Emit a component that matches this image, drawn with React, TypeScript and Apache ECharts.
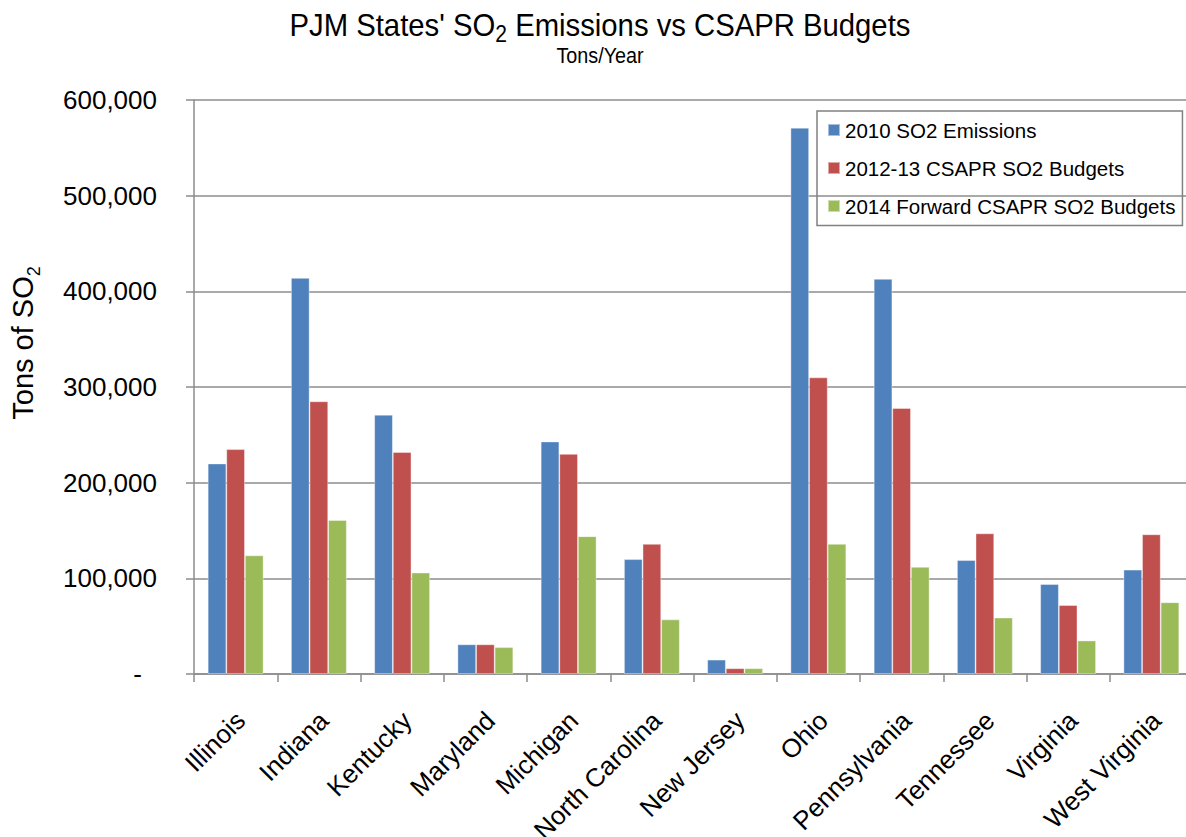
import React, { useEffect, useRef } from "react";
import * as echarts from "echarts";

const categories = [
  "Illinois",
  "Indiana",
  "Kentucky",
  "Maryland",
  "Michigan",
  "North Carolina",
  "New Jersey",
  "Ohio",
  "Pennsylvania",
  "Tennessee",
  "Virginia",
  "West Virginia",
];

const emissions2010 = [220000, 414000, 271000, 31000, 243000, 120000, 15000, 571000, 413000, 119000, 94000, 109000];
const budgets2012 = [235000, 285000, 232000, 31000, 230000, 136000, 6000, 310000, 278000, 147000, 72000, 146000];
const budgets2014 = [124000, 161000, 106000, 28000, 144000, 57000, 6000, 136000, 112000, 59000, 35000, 75000];

const yTicks = [0, 100000, 200000, 300000, 400000, 500000, 600000];

const seriesNames = ["2010 SO2 Emissions", "2012-13 CSAPR SO2 Budgets", "2014 Forward CSAPR SO2 Budgets"];
const colors = ["#4F81BD", "#C0504D", "#9BBB59"];

const SANS = "'Liberation Sans', Arial, sans-serif";

export default function App() {
  const ref = useRef<HTMLDivElement>(null);

  useEffect(() => {
    if (!ref.current) return;
    const chart = echarts.init(ref.current, null, { renderer: "svg" });
    const data = [emissions2010, budgets2012, budgets2014];
    chart.setOption({
      animation: false,
      backgroundColor: "#ffffff",
      graphic: [
        {
          type: "text",
          x: 600,
          y: 26.5,
          scaleX: 0.915,
          style: {
            text: "{m|PJM States' SO}{sub|2}{m| Emissions vs CSAPR Budgets}",
            fontFamily: SANS,
            fontSize: 32,
            fill: "#000",
            align: "center",
            verticalAlign: "middle",
            rich: {
              m: { fontFamily: SANS, fontSize: 32, lineHeight: 36, verticalAlign: "top", fill: "#000" },
              sub: {
                fontFamily: SANS,
                fontSize: 23,
                lineHeight: 23,
                padding: [14.5, 0, 0, 0],
                verticalAlign: "top",
                fill: "#000",
              },
            },
          },
        },
        {
          type: "text",
          x: 600,
          y: 55,
          scaleX: 0.9,
          style: {
            text: "Tons/Year",
            fontFamily: SANS,
            fontSize: 22,
            fill: "#000",
            align: "center",
            verticalAlign: "middle",
          },
        },
        {
          type: "text",
          x: 24.5,
          y: 343,
          rotation: Math.PI / 2,
          style: {
            text: "{m|Tons of SO}{sub|2}",
            fontFamily: SANS,
            fontSize: 29,
            fill: "#000",
            align: "center",
            verticalAlign: "middle",
            rich: {
              m: { fontFamily: SANS, fontSize: 29, lineHeight: 32, verticalAlign: "top", fill: "#000" },
              sub: {
                fontFamily: SANS,
                fontSize: 18,
                lineHeight: 18,
                padding: [16.5, 0, 0, 0],
                verticalAlign: "top",
                fill: "#000",
              },
            },
          },
        },
      ],
      legend: {
        orient: "vertical",
        left: 817,
        top: 111,
        itemWidth: 12,
        itemHeight: 12,
        itemGap: 17,
        padding: [8.5, 7, 9, 10],
        borderColor: "#808080",
        borderWidth: 1.5,
        icon: "rect",
        textStyle: { fontFamily: SANS, fontSize: 20.5, lineHeight: 21, color: "#000" },
        data: seriesNames,
      },
      grid: {
        left: 194,
        top: 100,
        width: 999,
        height: 574,
        containLabel: false,
        outerBoundsMode: "none",
      },
      xAxis: {
        type: "category",
        data: categories,
        axisLine: { lineStyle: { color: "#8c8c8c", width: 1.5 } },
        axisTick: { show: true, length: 8, lineStyle: { color: "#8c8c8c", width: 1.5 } },
        axisLabel: {
          interval: 0,
          rotate: 45,
          margin: 47,
          padding: [0, -7, 0, 0],
          fontFamily: SANS,
          fontSize: 26,
          color: "#000",
        },
      },
      yAxis: {
        type: "value",
        min: yTicks[0],
        max: yTicks[yTicks.length - 1],
        interval: yTicks[1] - yTicks[0],
        axisLine: { show: true, lineStyle: { color: "#8c8c8c", width: 1.5 } },
        axisTick: { show: true, length: 8, lineStyle: { color: "#8c8c8c", width: 1.5 } },
        splitLine: { lineStyle: { color: "#8c8c8c", width: 1.5 } },
        axisLabel: {
          margin: 37,
          fontFamily: SANS,
          fontSize: 26,
          color: "#000",
          formatter: (v: number) => (v === 0 ? "{d|-}" : v.toLocaleString("en-US")),
          rich: { d: { fontFamily: SANS, fontSize: 26, color: "#000", padding: [0, 15, 0, 0] } },
        },
      },
      series: seriesNames.map((name, i) => ({
        name,
        type: "bar",
        data: data[i],
        barGap: "0%",
        barCategoryGap: "33%",
        itemStyle: { color: colors[i], borderColor: "rgba(255,255,255,0.5)", borderWidth: 0.8 },
      })),
    });
    return () => chart.dispose();
  }, []);

  return (
    <div
      ref={ref}
      style={{ position: "fixed", left: 0, top: 0, width: 1186, height: 837, background: "#fff" }}
    />
  );
}
